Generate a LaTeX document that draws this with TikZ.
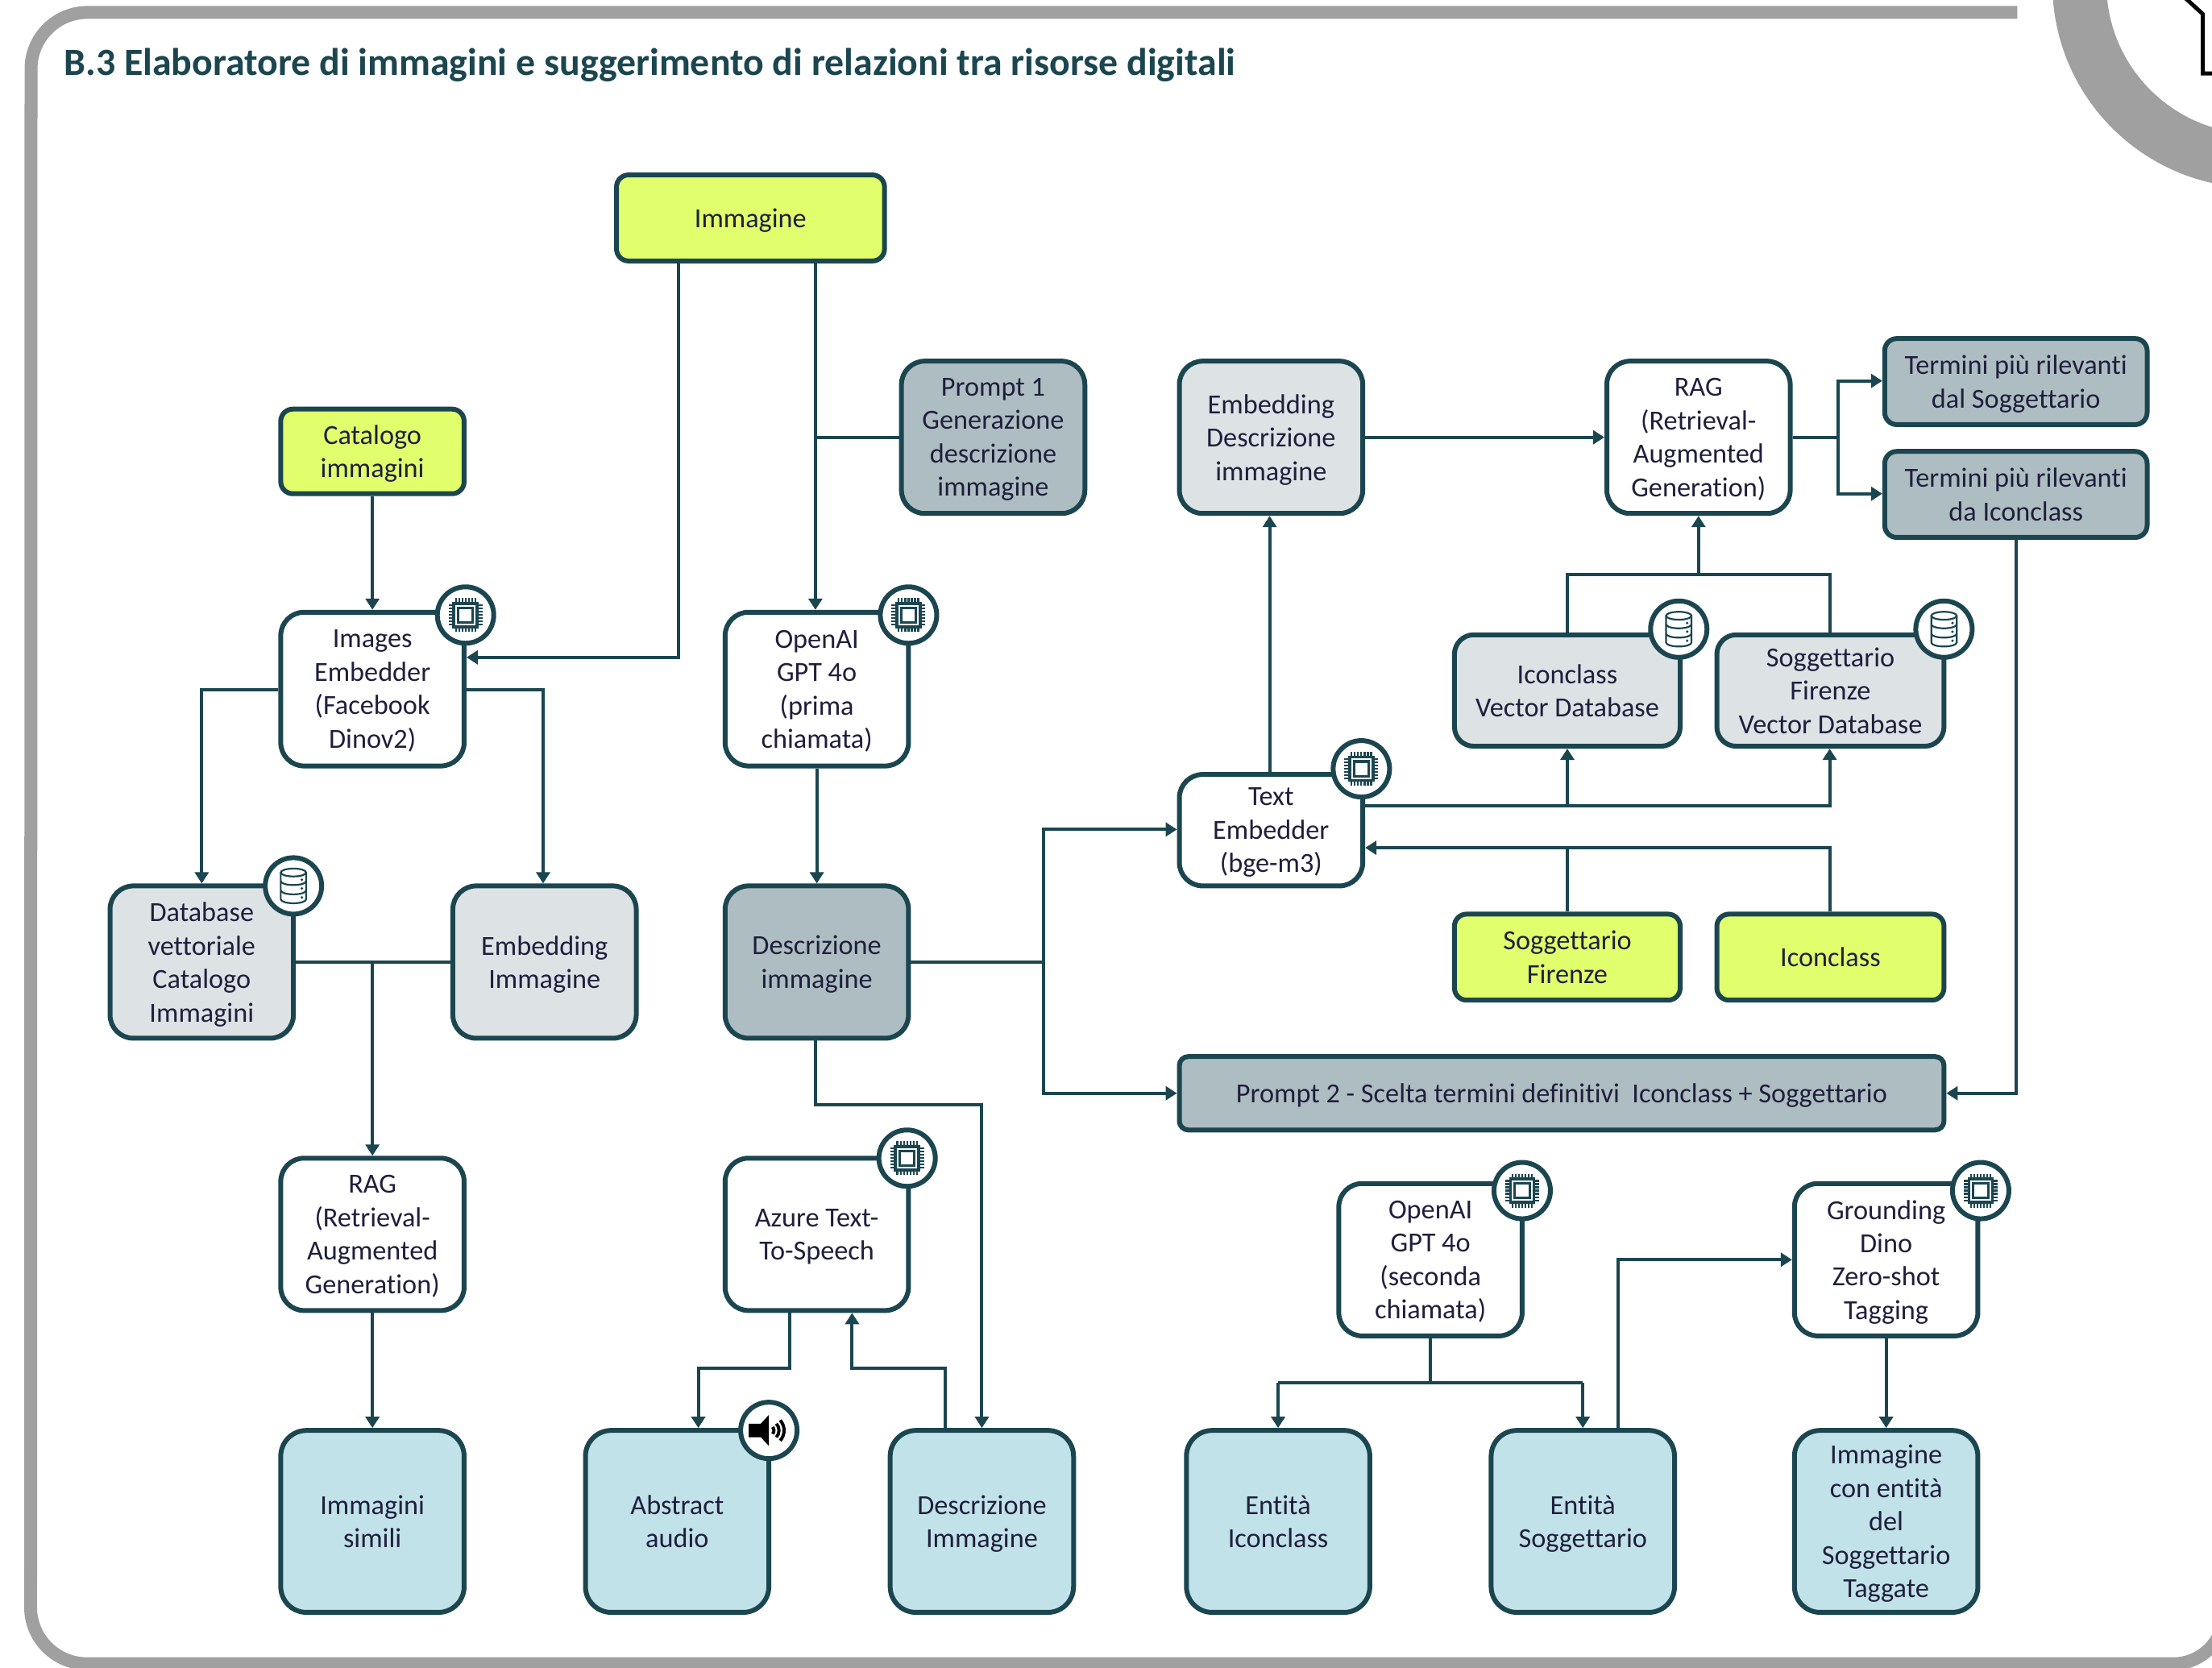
\documentclass[tikz,border=0pt]{standalone}
\usepackage{fontspec}
\setmainfont{Carlito}[Ligatures={NoCommon}]
\usetikzlibrary{arrows.meta}
\definecolor{teal}{HTML}{1B4650}
\definecolor{ink}{HTML}{1F1F3D}
\definecolor{lime}{HTML}{E1FF6C}
\definecolor{pale}{HTML}{DDE2E5}
\definecolor{midg}{HTML}{AEBDC1}
\definecolor{sky}{HTML}{C2E2E9}
\definecolor{framegray}{HTML}{A0A0A0}
\tikzset{
  base/.style={draw=teal,line width=0.06cm,rounded corners=0.29cm,align=center,text=ink,inner sep=0pt,text depth=0pt,
    font=\fontsize{9.75}{11.8}\selectfont},
  white/.style={base,fill=white},
  paleb/.style={base,fill=pale},
  midb/.style={base,fill=midg},
  skyb/.style={base,fill=sky,rounded corners=0.32cm},
  limeb/.style={base,fill=lime,rounded corners=0.15cm},
  flat/.style={base,fill=midg,rounded corners=0.15cm},
  flatthin/.style={base,fill=midg,rounded corners=0.11cm},
  paleflat/.style={base,fill=pale,rounded corners=0.24cm},
  conn/.style={draw=teal,line width=0.04cm},
  arr/.style={conn,-{Triangle[length=0.14cm,width=0.17cm]}},
  badge/.style={circle,draw=teal,fill=white,line width=0.06cm,minimum size=0.70cm,inner sep=0pt},
}
\newcommand{\bx}[7]{%
  \pgfmathsetmacro{\bxw}{(#5-#3)*0.017506}%
  \pgfmathsetmacro{\bxh}{(#6-#4)*0.017506}%
  \pgfmathsetmacro{\bxa}{(#3+#5)/2}%
  \pgfmathsetmacro{\bxb}{-(#4+#6)/2}%
  \node[#2,minimum width=\bxw cm,minimum height=\bxh cm] (#1) at (\bxa,\bxb) {#7};}
\newcommand{\chipicon}[3]{%
  \node[badge] (#1) at (#2,-#3) {};
  \begin{scope}[shift={(#2,-#3)}]
    \draw[teal,line width=0.035cm] (-8.3,-8.3) rectangle (8.3,8.3);
    \draw[teal,line width=0.03cm] (-5.2,-5.2) rectangle (5.2,5.2);
    \foreach \p in {-6.9,-4.6,-2.3,0,2.3,4.6,6.9}{
      \draw[teal,line width=0.022cm] (\p,8) -- (\p,12);
      \draw[teal,line width=0.022cm] (\p,-8) -- (\p,-12);
      \draw[teal,line width=0.022cm] (8,\p) -- (12,\p);
      \draw[teal,line width=0.022cm] (-8,\p) -- (-12,\p);
    }
  \end{scope}}
\newcommand{\dbicon}[3]{%
  \node[badge] (#1) at (#2,-#3) {};
  \begin{scope}[shift={(#2,-#3)},teal,line width=0.022cm]
    \draw (0,9.5) ellipse (9 and 2.8);
    \draw (-9,9.5) -- (-9,-9.5) arc[start angle=180,end angle=360,x radius=9,y radius=2.8] -- (9,9.5);
    \draw (-9,3.4) arc[start angle=180,end angle=360,x radius=9,y radius=2.8];
    \draw (-9,-3.2) arc[start angle=180,end angle=360,x radius=9,y radius=2.8];
    \foreach \q in {4.4,-1.8,-8.2} \fill (6,\q) circle (1);
  \end{scope}}
\newcommand{\spicon}[3]{%
  \node[badge] (#1) at (#2,-#3) {};
  \begin{scope}[shift={(#2,-#3)}]
    \fill[black] (-14.3,-4.8) -- (-5.7,-4.8) -- (0,-11) -- (0,11) -- (-5.7,4.8) -- (-14.3,4.8) -- cycle;
    \foreach \r in {3.6,7.2,10.8}
      \draw[black,line width=0.04cm] (-42:\r) arc[start angle=-42,end angle=42,radius=\r];
  \end{scope}}
\begin{document}
\begin{tikzpicture}[x=0.017506cm,y=0.017506cm]
\path[use as bounding box,fill=white] (0,0) rectangle (1568,-1182);
\begin{scope}
\clip (0,0) rectangle (1568,-1182);
\draw[framegray,line width=0.16cm] (1430,-8.8) -- (62,-8.8) arc[start angle=90,end angle=180,radius=40] -- (21.7,-1139.4) arc[start angle=180,end angle=270,radius=40] -- (1540.6,-1179.4) arc[start angle=270,end angle=360,radius=36] -- (1576.6,-1000);
\draw[framegray,line width=0.67cm] (1599.4,11.4) circle (125.4);
\draw[black,line width=0.05cm] (1549.5,1) -- (1561.5,-10) -- (1561.5,-52) -- (1575,-52);
\end{scope}
\node[anchor=west,text=teal,font=\fontsize{13.6}{15}\selectfont\bfseries,inner sep=0] (title) at (45,-46) {B.3 Elaboratore di immagini e suggerimento di relazioni tra risorse digitali};

\bx{imm}{limeb}{437}{124}{627}{185}{Immagine}
\bx{cat}{limeb}{199}{290}{329}{350}{Catalogo\\immagini}
\bx{emb}{white}{199}{434}{329}{543}{Images\\Embedder\\(Facebook\\Dinov2)}
\bx{gptA}{white}{514}{434}{644}{543}{OpenAI\\GPT 4o\\(prima\\chiamata)}
\bx{promptA}{midb}{639}{256}{769}{364}{Prompt 1\\Generazione\\descrizione\\immagine}
\bx{embdesc}{paleb}{836}{256}{966}{364}{Embedding\\Descrizione\\immagine}
\bx{ragB}{white}{1139}{256}{1269}{364}{RAG\\(Retrieval-\\Augmented\\Generation)}
\bx{termA}{flat}{1336}{240}{1522}{301}{Termini più rilevanti\\dal Soggettario}
\bx{termB}{flat}{1336}{320}{1522}{381}{Termini più rilevanti\\da Iconclass}
\bx{iconvec}{paleflat}{1031}{450}{1191}{529}{Iconclass\\Vector Database}
\bx{soggvec}{paleflat}{1217}{450}{1378}{529}{Soggettario\\Firenze\\Vector Database}
\bx{textemb}{white}{836}{549}{966}{628}{Text\\Embedder\\(bge-m3)}
\bx{sogg}{limeb}{1031}{648}{1191}{709}{Soggettario\\Firenze}
\bx{icon}{limeb}{1217}{648}{1378}{709}{Iconclass}
\bx{dbv}{paleb}{78}{628}{208}{736}{Database\\vettoriale\\Catalogo\\Immagini}
\bx{embimg}{paleb}{321}{628}{451}{736}{Embedding\\Immagine}
\bx{descimg}{midb}{514}{628}{644}{736}{Descrizione\\immagine}
\bx{promptB}{flatthin}{836}{749}{1378}{801}{Prompt 2 - Scelta termini definitivi\ \ Iconclass + Soggettario}
\bx{ragA}{white}{199}{821}{329}{929}{RAG\\(Retrieval-\\Augmented\\Generation)}
\bx{azure}{white}{514}{821}{644}{929}{Azure Text-\\To-Speech}
\bx{gptB}{white}{949}{839}{1079}{947}{OpenAI\\GPT 4o\\(seconda\\chiamata)}
\bx{ground}{white}{1272}{839}{1402}{947}{Grounding\\Dino\\Zero-shot\\Tagging}
\bx{simili}{skyb}{199}{1014}{329}{1143}{Immagini\\simili}
\bx{abstract}{skyb}{415}{1014}{545}{1143}{Abstract\\audio}
\bx{descimm}{skyb}{631}{1014}{761}{1143}{Descrizione\\Immagine}
\bx{enti}{skyb}{841}{1014}{971}{1143}{Entità\\Iconclass}
\bx{ents}{skyb}{1057}{1014}{1187}{1143}{Entità\\Soggettario}
\bx{tagged}{skyb}{1272}{1014}{1402}{1143}{Immagine\\con entità\\del\\Soggettario\\Taggate}

% guide coordinates
\coordinate (xa) at (481,0);
\coordinate (xb) at (578,0);
\coordinate (xc) at (143,0);
\coordinate (xd) at (385,0);
\coordinate (xe) at (264,0);
\coordinate (xf) at (740,0);
\coordinate (xg) at (696,0);
\coordinate (xh) at (560,0);
\coordinate (xi) at (495,0);
\coordinate (xj) at (670,0);
\coordinate (xk) at (604,0);
\coordinate (xl) at (900,0);
\coordinate (xm) at (1303,0);
\coordinate (xn) at (1111,0);
\coordinate (xo) at (1297,0);
\coordinate (xp) at (1204,0);
\coordinate (xq) at (1429,0);
\coordinate (xr) at (1014,0);
\coordinate (xs) at (906,0);
\coordinate (xt) at (1122,0);
\coordinate (xu) at (1147,0);
\coordinate (xv) at (1337,0);
\coordinate (ya) at (0,-466);
\coordinate (yb) at (0,-489);
\coordinate (yc) at (0,-783);
\coordinate (yd) at (0,-970);
\coordinate (ye) at (0,-407);
\coordinate (yf) at (0,-571);
\coordinate (yg) at (0,-601);
\coordinate (yh) at (0,-980);
\coordinate (yi) at (0,-893);
\coordinate (yj) at (0,-588);
\coordinate (yk) at (0,-775);
\coordinate (yl) at (0,-270);
\coordinate (ym) at (0,-350);

% connectors
\draw[arr] (imm.south -| xa) -- (xa |- ya) -- (emb.east |- ya);
\draw[arr] (imm.south -| xb) -- (gptA.north -| xb);
\draw[conn] (promptA.west) -- (promptA.west -| xb);
\draw[arr] (cat.south -| emb.north) -- (emb.north);
\draw[arr] (emb.west |- yb) -- (xc |- yb) -- (dbv.north -| xc);
\draw[arr] (emb.east |- yb) -- (xd |- yb) -- (embimg.north -| xd);
\draw[conn] (dbv.east) -- (embimg.west);
\draw[arr] (xe |- dbv.east) -- (ragA.north -| xe);
\draw[arr] (ragA.south) -- (simili.north);
\draw[arr] (gptA.south) -- (descimg.north);
\coordinate (jd) at (xf |- descimg.east);
\draw[conn] (descimg.east) -- (jd);
\draw[arr] (jd) -- (xf |- yj) -- (textemb.west |- yj);
\draw[arr] (jd) -- (xf |- yk) -- (promptB.west |- yk);
\draw[arr] (descimg.south -| xb) -- (xb |- yc) -- (xg |- yc) -- (descimm.north -| xg);
\draw[arr] (azure.south -| xh) -- (xh |- yd) -- (xi |- yd) -- (abstract.north -| xi);
\draw[arr] (descimm.north -| xj) -- (xj |- yd) -- (xk |- yd) -- (azure.south -| xk);
\draw[arr] (textemb.north -| xl) -- (embdesc.south -| xl);
\draw[arr] (embdesc.east) -- (ragB.west);
\draw[conn] (ragB.east) -- (xm |- ragB.east);
\draw[arr] (xm |- ragB.east) -- (xm |- yl) -- (termA.west |- yl);
\draw[arr] (xm |- ragB.east) -- (xm |- ym) -- (termB.west |- ym);
\draw[conn] (iconvec.north -| xn) -- (xn |- ye) -- (xo |- ye) -- (soggvec.north -| xo);
\draw[arr] (xp |- ye) -- (ragB.south -| xp);
\draw[arr] (textemb.east |- yf) -- (xo |- yf) -- (soggvec.south -| xo);
\draw[arr] (xn |- yf) -- (iconvec.south -| xn);
\draw[conn] (sogg.north -| xn) -- (xn |- yg);
\draw[arr] (icon.north -| xo) -- (xo |- yg) -- (textemb.east |- yg);
\draw[arr] (termB.south -| xq) -- (xq |- yk) -- (promptB.east |- yk);
\draw[conn] (gptB.south -| xr) -- (xr |- yh);
\draw[arr] (xs |- yh) -- (enti.north -| xs);
\draw[arr] (xt |- yh) -- (ents.north -| xt);
\draw[conn] (xs |- yh) -- (xt |- yh);
\draw[arr] (ents.north -| xu) -- (xu |- yi) -- (ground.west |- yi);
\draw[arr] (ground.south -| xv) -- (tagged.north -| xv);

% badges
\chipicon{chipA}{330}{436}
\chipicon{chipB}{644}{436}
\chipicon{chipC}{965}{545}
\chipicon{chipD}{1079}{844}
\chipicon{chipE}{1404}{844}
\chipicon{chipF}{643}{821}
\dbicon{dbA}{1190}{446}
\dbicon{dbB}{1378}{446}
\dbicon{dbC}{208}{628}
\spicon{spk}{545}{1014}
\end{tikzpicture}
\end{document}
